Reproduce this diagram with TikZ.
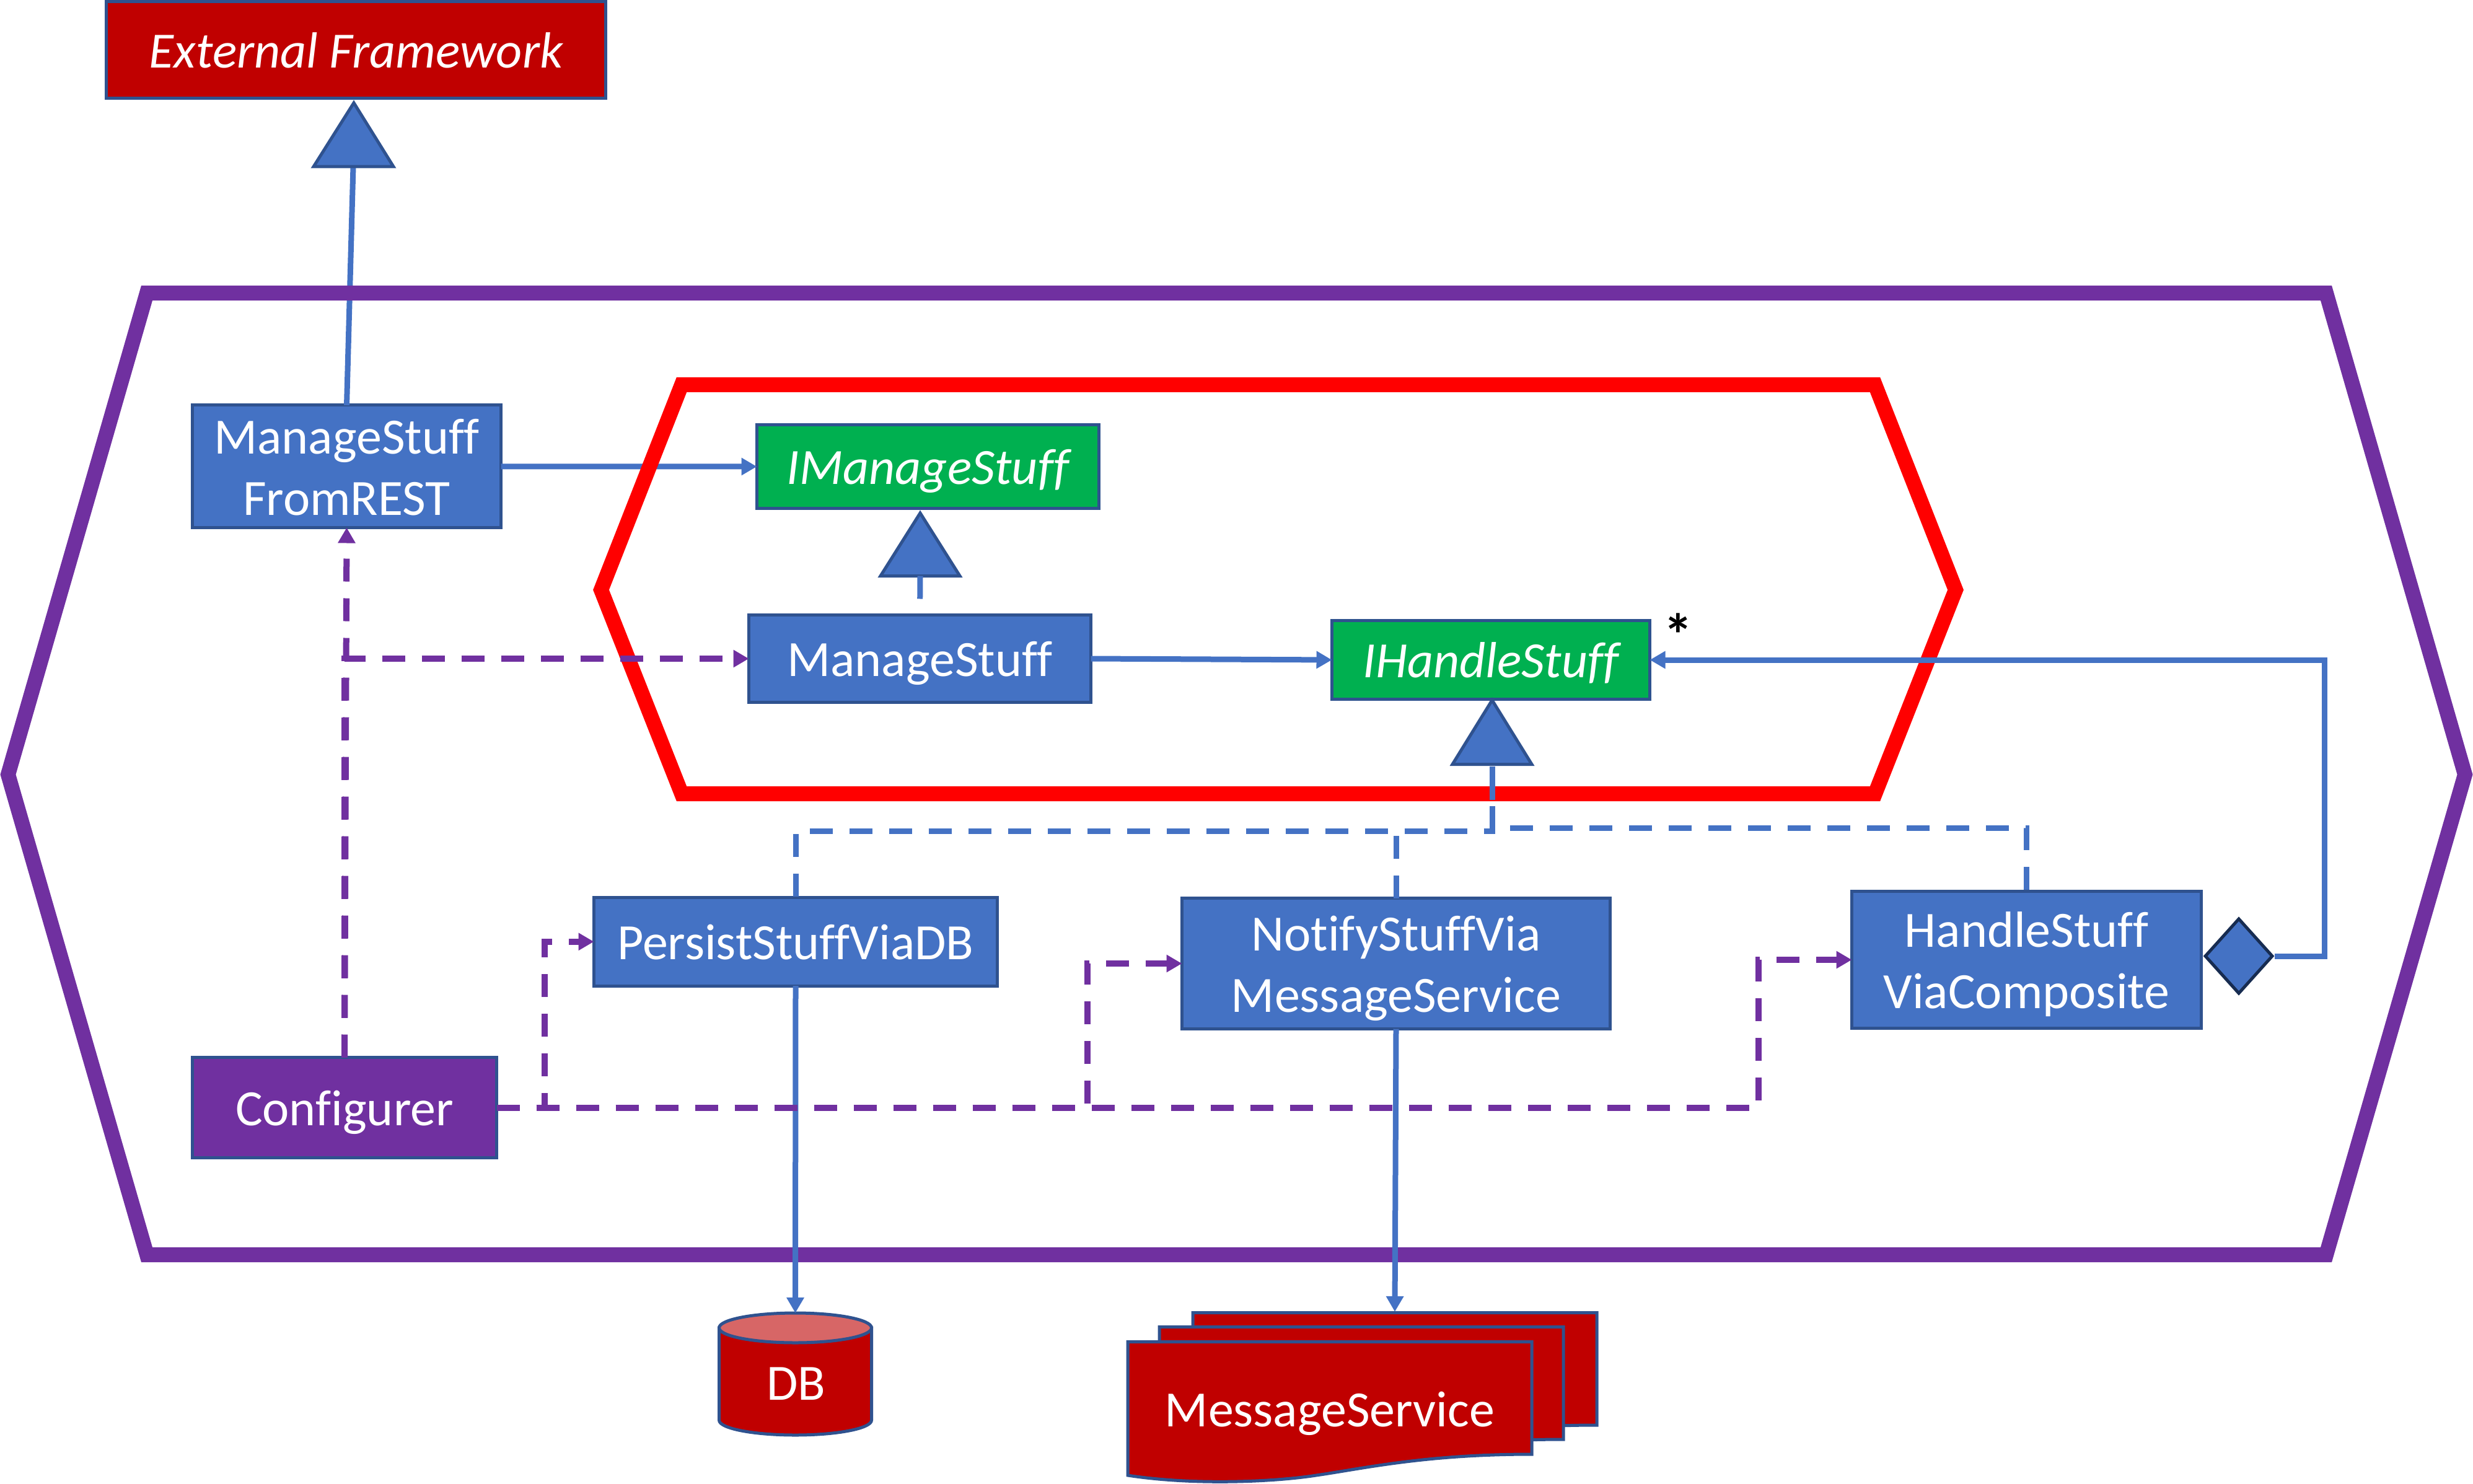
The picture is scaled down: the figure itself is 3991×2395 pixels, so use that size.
\documentclass[tikz,border=0pt]{standalone}
\usepackage{fontspec}
\setmainfont[Ligatures=NoCommon]{Carlito}
\usetikzlibrary{arrows.meta,shapes.geometric,calc}
\definecolor{bluefill}{HTML}{4472C4}
\definecolor{blueedge}{HTML}{2F528F}
\definecolor{greenfill}{HTML}{00B050}
\definecolor{darkred}{HTML}{C00000}
\definecolor{purp}{HTML}{7030A0}
\definecolor{navy}{HTML}{172C51}
\definecolor{dbtop}{HTML}{D76666}
\tikzset{
  boxbase/.style={rectangle,draw=blueedge,line width=1.25pt,inner sep=0pt,outer sep=0pt,
    text=white,align=center,text height=19.45pt,text depth=5pt,
    font=\fontsize{20.5}{24.75}\selectfont},
  twolines/.style={text height=44.2pt},
  bluebox/.style={boxbase,fill=bluefill},
  greenbox/.style={boxbase,fill=greenfill,font=\fontsize{20.5}{24.75}\selectfont\itshape},
  redbox/.style={boxbase,fill=darkred,font=\fontsize{20.5}{24.75}\selectfont\itshape},
  purplebox/.style={boxbase,fill=purp},
  hexpurple/.style={draw=purp,line width=6pt},
  hexred/.style={draw=red,line width=6pt},
  tip/.style={-{Triangle[length=6.25pt,width=6.75pt]}},
  solidline/.style={draw=bluefill,line width=2.25pt},
  bluedash/.style={draw=bluefill,line width=2.25pt,dash pattern=on 9.25pt off 6.75pt},
  purpledash/.style={draw=purp,line width=2.5pt,dash pattern=on 9.25pt off 6.75pt,tip},
  inherit/.style={fill=bluefill,draw=blueedge,line width=1.25pt},
  redshape/.style={fill=darkred,draw=blueedge,line width=1.25pt},
  plaintext/.style={text=white,inner sep=0pt,font=\fontsize{20.5}{24.75}\selectfont},
}
\newcommand{\docsheet}[2]{%
  \path[redshape,shift={(#1,#2)}] (1820,2165.5) -- (2472,2165.5) -- (2472,2347)
    .. controls (2300,2347) and (2200,2370) .. (2124,2381)
    .. controls (2060,2391) and (1930,2398) .. (1820,2381) -- cycle;}
\begin{document}
\begin{tikzpicture}[x=0.25pt,y=-0.25pt]
\useasboundingbox (0,0) rectangle (3991,2395);
% boxes
\node[redbox,minimum width=201.5pt,minimum height=39pt] (ext) at (574.5,80.5) {External Framework};
\node[bluebox,twolines,minimum width=124.5pt,minimum height=49.375pt] (from) at (559.5,752.75) {ManageStuff\\FromREST};
\node[greenbox,minimum width=138pt,minimum height=33.75pt] (imanage) at (1497.5,753) {IManageStuff};
\node[bluebox,minimum width=138pt,minimum height=35.25pt] (manage) at (1484.5,1063) {ManageStuff};
\node[greenbox,minimum width=128.25pt,minimum height=31.75pt] (ihandle) at (2406,1065) {IHandleStuff};
\node[bluebox,minimum width=162.75pt,minimum height=35.625pt] (persist) at (1284,1519.75) {PersistStuffViaDB};
\node[bluebox,twolines,minimum width=172.75pt,minimum height=52.75pt] (notify) at (2253,1555) {NotifyStuffVia\\MessageService};
\node[bluebox,twolines,minimum width=141pt,minimum height=55.25pt] (handle) at (3270.5,1549) {HandleStuff\\ViaComposite};
\node[purplebox,minimum width=122.75pt,minimum height=40.5pt] (cfg) at (556,1787.5) {Configurer};
\node[diamond,draw=navy,fill=bluefill,line width=1.25pt,inner sep=0pt,minimum width=27.5pt,minimum height=30.5pt] (dia) at (3613,1543) {};
\node[anchor=base,inner sep=0pt,font=\fontsize{24}{24.75}\selectfont\bfseries] (star) at (2708,1058) {*};
% coordinates
\coordinate (t1b) at (570,269);
\coordinate (t2b) at (1485,929.5);
\coordinate (t3b) at (2408,1233.5);
\coordinate (jl) at (2408,1341);
\coordinate (jr) at (2408,1336);
\coordinate (w1) at (879,1650);
\coordinate (w2) at (1755,1650);
\coordinate (w3) at (2838,1650);
\coordinate (w4) at (3751,1300);
\coordinate (backtop) at (2251,2117);
% lines beneath the frames
\draw[solidline] (from.north) -- (t1b);
\draw[solidline,tip] (from.east) -- (imanage.west);
% frames
\path[hexpurple] (237,473) -- (3754,473) -- (3978,1250) -- (3754,2025) -- (237,2025) -- (13,1250) -- cycle;
\path[hexred] (1100,621) -- (3026,621) -- (3156,952) -- (3026,1281) -- (1100,1281) -- (970,952) -- cycle;
% data stores
\docsheet{105}{-47}
\docsheet{51}{-24}
\docsheet{0}{0}
\node[plaintext,anchor=base] (msg) at (2146,2302) {MessageService};
\path[redshape] (1160.5,2143) -- (1160.5,2292) arc[start angle=180,end angle=0,x radius=123,y radius=24] -- (1406.5,2143) -- cycle;
\path[fill=dbtop,draw=blueedge,line width=1.25pt] (1283.5,2143) ellipse[x radius=123,y radius=24];
\node[plaintext,anchor=base] (db) at (1285,2259) {DB};
\coordinate (dbtopc) at (1283.5,2119);
% triangles
\path[inherit] (571,166) -- (635,269) -- (506,269) -- cycle;
\path[inherit] (1485,828) -- (1549,929.5) -- (1421,929.5) -- cycle;
\path[inherit] (2408,1130) -- (2472,1233.5) -- (2344,1233.5) -- cycle;
% connectors
\draw[bluedash] (t2b) -- (manage.north);
\draw[solidline,tip] (manage.east) -- (ihandle.west);
\draw[bluedash,dash phase=15.5pt] (persist.north) |- (jl) -- (t3b);
\draw[bluedash,dash phase=15.25pt] (handle.north) |- (jr) -- (t3b);
\draw[bluedash] (notify.north) -- (notify.north |- jl);
\draw[solidline,tip] (dia.east) -| (w4) |- (ihandle.east);
\draw[solidline,tip] (persist.south) -- (dbtopc);
\draw[solidline,tip] (notify.south) -- (backtop);
\draw[purpledash] (cfg.north) -- (from.south);
\draw[purpledash] (cfg.north) |- (manage.west);
\draw[purpledash] (cfg.east) -| (w1) |- (persist.west);
\draw[purpledash] (cfg.east) -| (w2) |- (notify.west);
\draw[purpledash] (cfg.east) -| (w3) |- (handle.west);
\end{tikzpicture}
\end{document}
